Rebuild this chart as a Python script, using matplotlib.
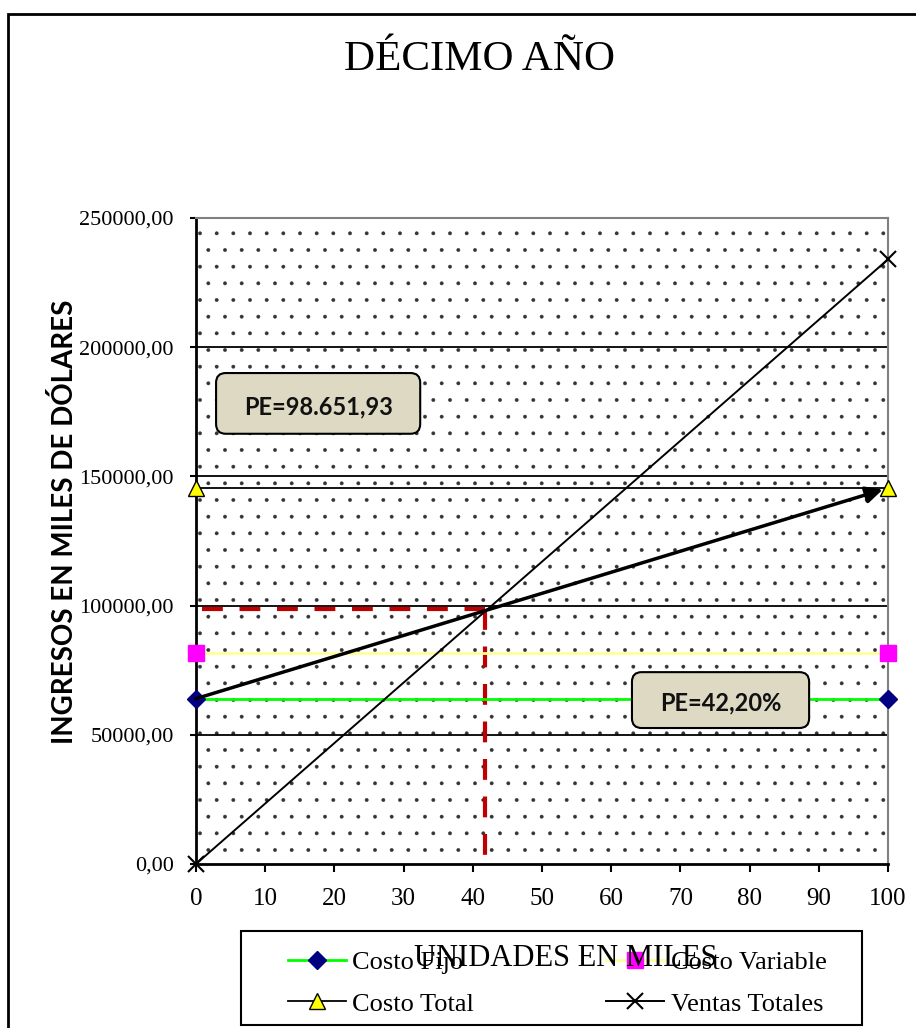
import matplotlib
matplotlib.use("Agg")
import matplotlib.pyplot as plt
from matplotlib.patches import Rectangle, FancyBboxPatch
from matplotlib.ticker import FuncFormatter, MultipleLocator

# data
unidades = [0, 100]
costo_fijo = [64000, 64000]
costo_variable = [81500, 81500]
costo_total = [145500, 145500]
ventas_totales = [0, 234000]

pe_unidades = 41.8
pe_valor = 98651.93
pe_texto_valor = "PE=98.651,93"
pe_texto_pct = "PE=42,20%"

serif = ["Liberation Serif", "DejaVu Serif"]
bold_sans = ["Lato", "DejaVu Sans"]

plt.rcParams["font.family"] = serif
plt.rcParams["hatch.linewidth"] = 0.3

fig = plt.figure(figsize=(9.16, 10.28), dpi=100)
ax = fig.add_axes([196 / 916, 1 - 864 / 1028, 692 / 916, 646 / 1028])

# dotted background
ax.add_patch(Rectangle((0, 0), 1, 1, transform=ax.transAxes, facecolor="white",
                       edgecolor="#333333", lw=0, hatch=".", zorder=0))

for y in range(50000, 250001, 50000):
    ax.axhline(y, color="black", lw=1.3, zorder=1)

h_fijo, = ax.plot(unidades, costo_fijo, color="#00FF00", lw=2, marker="D", ms=9,
                  mfc="#000080", mec="#000080", clip_on=False, zorder=4, label="Costo Fijo")
h_var, = ax.plot(unidades, costo_variable, color="#FFFF99", lw=2, marker="s", ms=11,
                 mfc="#FF00FF", mec="#FF00FF", clip_on=False, zorder=4, label="Costo Variable")
h_tot, = ax.plot(unidades, costo_total, color="black", lw=1.3, marker="^", ms=11,
                 mfc="#FFFF00", mec="black", mew=1, clip_on=False, zorder=4, label="Costo Total")
h_ven, = ax.plot(unidades, ventas_totales, color="black", lw=1.4, marker="x", ms=12,
                 mew=1.5, clip_on=False, zorder=4, label="Ventas Totales")

# total cost arrow from fixed cost to total cost
ax.annotate("", xy=(unidades[1], costo_total[1]), xytext=(unidades[0], costo_fijo[0]),
            arrowprops=dict(arrowstyle="-|>", lw=2.5, color="black",
                            mutation_scale=25, shrinkA=0, shrinkB=4), zorder=5)

# break-even dashed lines
ax.plot([0.9, pe_unidades], [pe_valor, pe_valor], color="#C00000", lw=3,
        dashes=(5, 4), zorder=3)
ax.plot([pe_unidades, pe_unidades], [pe_valor, 2300], color="#C00000", lw=3,
        dashes=(5, 4), zorder=3)

# text boxes
for (x0, y0, w, h), txt in [((0.029, 0.666, 0.295, 0.094), pe_texto_valor),
                           ((0.630, 0.2105, 0.256, 0.0865), pe_texto_pct)]:
    ax.add_patch(FancyBboxPatch((x0, y0), w, h, transform=ax.transAxes,
                                boxstyle="round,pad=0,rounding_size=0.014",
                                mutation_aspect=1.07, facecolor="#DDD9C3",
                                edgecolor="black", lw=1.5, zorder=6))
    ax.text(x0 + w / 2, y0 + h / 2 - 0.005, txt, transform=ax.transAxes,
            ha="center", va="center", family=bold_sans, fontweight="bold",
            fontsize=17, color="#111111", zorder=7)

ax.set_xlim(0, 100)
ax.set_ylim(0, 250000)
ax.xaxis.set_major_locator(MultipleLocator(10))
ax.yaxis.set_major_locator(MultipleLocator(50000))
ax.yaxis.set_major_formatter(FuncFormatter(lambda v, p: f"{v:.2f}".replace(".", ",")))
ax.tick_params(axis="y", direction="out", length=4, width=1.5, pad=12, labelsize=16)
ax.tick_params(axis="x", direction="out", length=6, width=1.5, pad=11, labelsize=18)

ax.spines["left"].set_linewidth(2)
ax.spines["bottom"].set_linewidth(2)
ax.spines["top"].set_color("#808080")
ax.spines["right"].set_color("#808080")
ax.spines["top"].set_linewidth(1.5)
ax.spines["right"].set_linewidth(1.5)

fig.text(480 / 916, 1 - 70 / 1028, "DÉCIMO AÑO", ha="center", va="baseline",
         fontsize=31)
fig.text(65 / 916, 1 - 522 / 1028, "INGRESOS EN MILES DE DÓLARES", rotation=90,
         ha="center", va="center", family=bold_sans, fontweight="bold", fontsize=20)

# legend frame and legend
fig.patches.append(Rectangle((241 / 916, 1 - 1025 / 1028), 621 / 916, 94 / 1028,
                             transform=fig.transFigure, facecolor="white",
                             edgecolor="black", lw=1.5, zorder=1))
fig.legend([h_fijo, h_tot, h_var, h_ven],
           ["Costo Fijo", "Costo Total", "Costo Variable", "Ventas Totales"],
           loc="center", bbox_to_anchor=(557 / 916, 1 - 983 / 1028), ncol=2,
           frameon=False, fontsize=19, handlelength=2.2, handletextpad=0.25,
           columnspacing=5.0, labelspacing=0.7, borderpad=0)

fig.text(566 / 916, 1 - 966 / 1028, "UNIDADES EN MILES", ha="center", va="baseline",
         fontsize=22, zorder=10)

# outer chart border
fig.patches.append(Rectangle((8 / 916, -0.05), 1.2, 1.05 - 14 / 1028,
                             transform=fig.transFigure, facecolor="none",
                             edgecolor="black", lw=2, zorder=0))

fig.savefig("out.png", dpi=100)
